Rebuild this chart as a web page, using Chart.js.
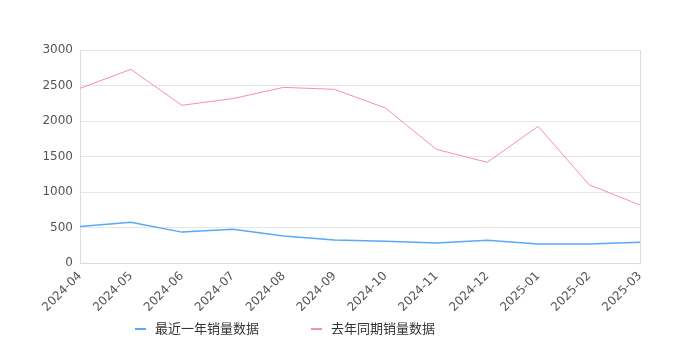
<!DOCTYPE html>
<html>
<head>
<meta charset="utf-8">
<script src="https://cdn.jsdelivr.net/npm/chart.js@4/dist/chart.umd.min.js"></script>
<style>
  body { margin: 0; background: #fff; }
  #wrap { position: relative; width: 680px; height: 350px; }
  .legend { position: absolute; top: 319px; left: 0; width: 680px; height: 20px;
    font-family: "Noto Sans CJK SC", "DejaVu Sans", sans-serif; font-size: 13px; color: #333; }
  .item { position: absolute; top: 0; line-height: 18px; }
  .mark { position: absolute; top: 9px; width: 11px; height: 2px; }
</style>
</head>
<body>
<div id="wrap">
  <canvas id="chart" width="680" height="350"></canvas>
  <div class="legend">
    <span class="mark" style="left:135px;background:#5aa9f4"></span>
    <span class="item" style="left:155px">最近一年销量数据</span>
    <span class="mark" style="left:311px;background:#f38dbf"></span>
    <span class="item" style="left:331px">去年同期销量数据</span>
  </div>
</div>
<script>
const months = ['2024-04', '2024-05', '2024-06', '2024-07', '2024-08', '2024-09',
  '2024-10', '2024-11', '2024-12', '2025-01', '2025-02', '2025-03'];
const recentYear = [515, 575, 435, 475, 380, 325, 305, 282, 319, 268, 266, 292];
const lastYear = [2460, 2728, 2221, 2315, 2474, 2446, 2183, 1601, 1418, 1925, 1103, 817];
const yTicks = [0, 500, 1000, 1500, 2000, 2500, 3000];

// right border of the plot area
const frame = {
  id: 'frame',
  afterDraw(chart) {
    const { ctx, chartArea } = chart;
    ctx.save();
    ctx.strokeStyle = '#dcdcdc';
    ctx.lineWidth = 1;
    ctx.beginPath();
    ctx.moveTo(chartArea.right + 0.5, chartArea.top);
    ctx.lineTo(chartArea.right + 0.5, chartArea.bottom);
    ctx.stroke();
    ctx.restore();
  }
};

new Chart(document.getElementById('chart'), {
  type: 'line',
  data: {
    labels: months,
    datasets: [
      {
        label: '最近一年销量数据',
        data: recentYear,
        borderColor: '#5aa9f4',
        borderWidth: 1.5,
        pointRadius: 0,
        tension: 0
      },
      {
        label: '去年同期销量数据',
        data: lastYear,
        borderColor: '#f38dbf',
        borderWidth: 1,
        pointRadius: 0,
        tension: 0
      }
    ]
  },
  options: {
    responsive: false,
    animation: false,
    layout: { padding: { left: 0, right: 40, top: 50, bottom: 0 } },
    plugins: {
      legend: { display: false },
      tooltip: { enabled: false }
    },
    scales: {
      x: {
        grid: { display: false, drawTicks: false },
        border: { color: '#dcdcdc' },
        ticks: {
          color: '#555',
          font: { family: 'DejaVu Sans', size: 12 },
          minRotation: 45,
          maxRotation: 45,
          padding: 6
        },
        afterFit: scale => { scale.height = 87; }
      },
      y: {
        min: 0,
        max: 3000,
        afterBuildTicks: scale => { scale.ticks = yTicks.map(v => ({ value: v })); },
        grid: { color: '#e6e6e6', drawTicks: false },
        border: { color: '#dcdcdc' },
        ticks: {
          color: '#555',
          font: { family: 'DejaVu Sans', size: 12 },
          padding: 7,
          callback: v => String(v)
        },
        afterFit: scale => { scale.width = 80; }
      }
    }
  },
  plugins: [frame]
});
</script>
</body>
</html>
